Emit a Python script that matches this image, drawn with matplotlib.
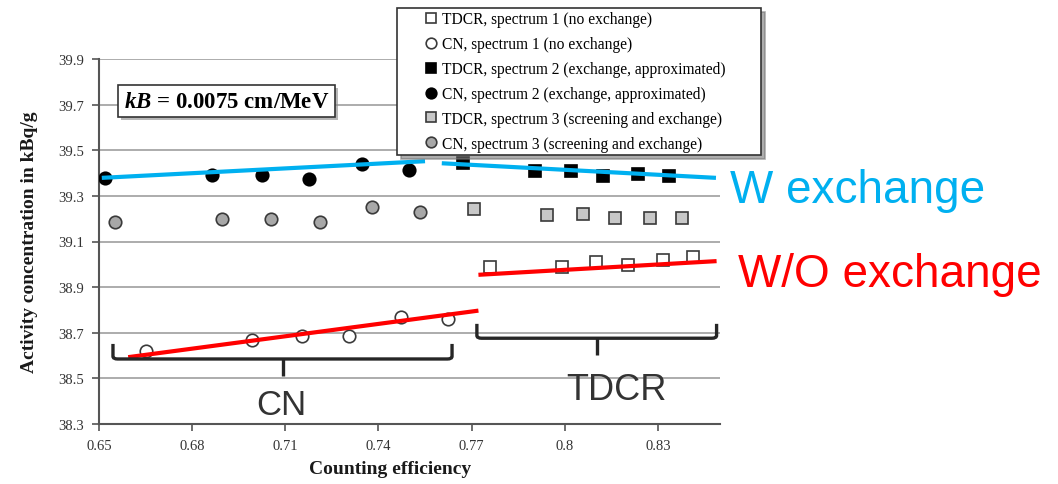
import matplotlib.pyplot as plt
import numpy as np
from matplotlib.path import Path
from matplotlib.patches import PathPatch
import matplotlib.patheffects as pe

plt.rcParams['mathtext.fontset'] = 'custom'
plt.rcParams['mathtext.rm'] = 'Liberation Serif:bold'
plt.rcParams['mathtext.bfit'] = 'Liberation Serif:italic:bold'

# data
cn_eff_1 = [0.6651, 0.6992, 0.7153, 0.7306, 0.7472, 0.7625]
cn_act_1 = [38.621, 38.668, 38.685, 38.685, 38.771, 38.761]
cn_eff_2 = [0.6520, 0.6863, 0.7024, 0.7177, 0.7346, 0.7499]
cn_act_2 = [39.379, 39.392, 39.392, 39.375, 39.439, 39.414]
cn_eff_3 = [0.6552, 0.6895, 0.7054, 0.7212, 0.7378, 0.7534]
cn_act_3 = [39.187, 39.199, 39.199, 39.185, 39.250, 39.229]

tdcr_eff_1 = [0.7759, 0.7990, 0.8102, 0.8205, 0.8315, 0.8414]
tdcr_act_1 = [38.987, 38.990, 39.009, 38.997, 39.021, 39.034]
tdcr_eff_2 = [0.7671, 0.7904, 0.8020, 0.8122, 0.8235, 0.8337]
tdcr_act_2 = [39.443, 39.411, 39.411, 39.389, 39.397, 39.385]
tdcr_eff_3 = [0.7709, 0.7942, 0.8058, 0.8162, 0.8273, 0.8377]
tdcr_act_3 = [39.243, 39.217, 39.221, 39.202, 39.205, 39.202]

# hand-drawn trend lines (endpoints)
blue_cn_x = [0.6509, 0.7550]
blue_cn_y = [39.379, 39.452]
blue_tdcr_x = [0.7604, 0.8487]
blue_tdcr_y = [39.443, 39.379]
red_cn_x = [0.6594, 0.7722]
red_cn_y = [38.593, 38.797]
red_tdcr_x = [0.7722, 0.8489]
red_tdcr_y = [38.954, 39.014]

# bracket groups: x0, x1, y_top, y_bottom, y_tip
cn_group = [0.6545, 0.7637, 38.651, 38.585, 38.512]
tdcr_group = [0.7717, 0.8489, 38.739, 38.676, 38.603]

xticks = [0.65, 0.68, 0.71, 0.74, 0.77, 0.8, 0.83]
xtick_labels = ['0.65', '0.68', '0.71', '0.74', '0.77', '0.8', '0.83']
yticks = [38.3, 38.5, 38.7, 38.9, 39.1, 39.3, 39.5, 39.7, 39.9]

fig = plt.figure(figsize=(10.58, 4.85), dpi=100)
ax = fig.add_axes([99/1058, 60/485, 621/1058, 365/485])

serif = 'Liberation Serif'
edge = '#3a3a3a'
ms = 9

ax.plot(tdcr_eff_1, tdcr_act_1, 's', ms=ms - 1, mfc='white', mec=edge, mew=1.2, label='TDCR, spectrum 1 (no exchange)', zorder=3)
ax.plot(cn_eff_1, cn_act_1, 'o', ms=ms, mfc='white', mec=edge, mew=1.2, label='CN, spectrum 1 (no exchange)', zorder=3)
ax.plot(tdcr_eff_2, tdcr_act_2, 's', ms=ms - 1, mfc='black', mec='black', mew=1.2, label='TDCR, spectrum 2 (exchange, approximated)', zorder=3)
ax.plot(cn_eff_2, cn_act_2, 'o', ms=ms, mfc='black', mec='black', mew=1.2, label='CN, spectrum 2 (exchange, approximated)', zorder=3)
ax.plot(tdcr_eff_3, tdcr_act_3, 's', ms=ms - 1, mfc='#c8c8c8', mec=edge, mew=1.2, label='TDCR, spectrum 3 (screening and exchange)', zorder=3)
ax.plot(cn_eff_3, cn_act_3, 'o', ms=ms, mfc='#a8a8a8', mec=edge, mew=1.2, label='CN, spectrum 3 (screening and exchange)', zorder=3)

blue = '#00b0f0'
red = '#ff0000'
ax.plot(blue_cn_x, blue_cn_y, color=blue, lw=3, solid_capstyle='butt', zorder=4)
ax.plot(blue_tdcr_x, blue_tdcr_y, color=blue, lw=3, solid_capstyle='butt', zorder=4)
ax.plot(red_cn_x, red_cn_y, color=red, lw=3, solid_capstyle='butt', zorder=4)
ax.plot(red_tdcr_x, red_tdcr_y, color=red, lw=3, solid_capstyle='butt', zorder=4)


def bracket(ax, g):
    x0, x1, yt, yb, ytip = g
    xm = (x0 + x1) / 2
    rx = 0.0015
    ry = 0.012
    verts = [(x0, yt), (x0, yb + ry), (x0, yb), (x0 + rx, yb),
             (x1 - rx, yb), (x1, yb), (x1, yb + ry), (x1, yt)]
    codes = [Path.MOVETO, Path.LINETO, Path.CURVE3, Path.CURVE3,
             Path.LINETO, Path.CURVE3, Path.CURVE3, Path.LINETO]
    ax.add_patch(PathPatch(Path(verts, codes), fill=False, lw=2.4, ec='#262626', zorder=4, clip_on=False))
    ax.plot([xm, xm], [yb, ytip], color='#262626', lw=2.4, zorder=4, solid_capstyle='butt')


bracket(ax, cn_group)
bracket(ax, tdcr_group)

ax.set_xlim(0.65, 0.85)
ax.set_ylim(38.3, 39.9)
ax.set_xticks(xticks)
ax.set_xticklabels(xtick_labels)
ax.set_yticks(yticks)
ax.set_yticklabels(['%.1f' % v for v in yticks])
for lab in ax.get_xticklabels() + ax.get_yticklabels():
    lab.set_fontfamily(serif)
    lab.set_fontsize(10.5)
    lab.set_color('#333333')
ax.tick_params(direction='out', length=5, width=1.2, color='#555555', pad=6)

for v in yticks[1:]:
    ax.axhline(v, color='#a6a6a6', lw=1.3, zorder=1)
for s in ['top', 'right']:
    ax.spines[s].set_visible(False)
for s in ['left', 'bottom']:
    ax.spines[s].set_color('#555555')
    ax.spines[s].set_linewidth(1.5)

fig.text(30/1058, 1 - 242/485, 'Activity concentration in kBq/g', rotation=90, ha='center', va='center',
         fontfamily=serif, fontweight='bold', fontsize=14, color='#1a1a1a')
fig.text(390/1058, 1 - 470/485, 'Counting efficiency', ha='center', va='center',
         fontfamily=serif, fontweight='bold', fontsize=14, color='#1a1a1a')

kb = fig.text(226.7/1058, 1 - 102/485, r'$\mathbfit{kB}$ = 0.0075 cm/MeV', ha='center', va='center',
              fontfamily=serif, fontweight='bold', fontsize=16.5, color='black',
              bbox=dict(boxstyle='square,pad=0.25', fc='white', ec='#333333', lw=1.2))
kb.get_bbox_patch().set_path_effects([pe.withSimplePatchShadow(offset=(2, -2), shadow_rgbFace='#888888', alpha=0.6)])

leg = ax.legend(loc='upper left', bbox_to_anchor=(397/1058, 1 - 154/485, 364/1058, 145/485),
                bbox_transform=fig.transFigure, mode='expand',
                borderaxespad=0, prop={'family': serif, 'size': 11.2}, frameon=True, fancybox=False,
                edgecolor='#333333', framealpha=1, handlelength=3.95, handletextpad=-1.28,
                borderpad=0.22, labelspacing=0.57, markerscale=0.85,
                shadow={'ox': 3, 'oy': -3, 'color': '#777777', 'alpha': 0.6})
leg.get_frame().set_linewidth(1.2)
leg.set_zorder(10)

sans = 'Liberation Sans'
fig.text(730/1058, 1 - 203/485, 'W exchange', ha='left', va='baseline', fontfamily=sans, fontsize=33, color=blue)
fig.text(738/1058, 1 - 287/485, 'W/O exchange', ha='left', va='baseline', fontfamily=sans, fontsize=33, color=red)
fig.text(281.7/1058, 1 - 406/485, 'CN', ha='center', va='center', fontfamily=sans, fontsize=25, color='#333333')
fig.text(616.7/1058, 1 - 390/485, 'TDCR', ha='center', va='center', fontfamily=sans, fontsize=26, color='#333333')

plt.savefig('out.png', dpi=100)
